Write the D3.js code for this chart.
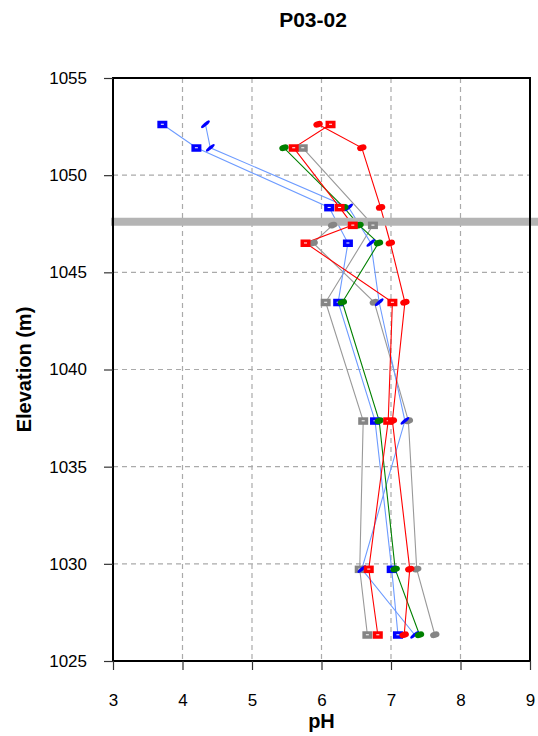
<!DOCTYPE html>
<html><head><meta charset="utf-8">
<script src="https://cdn.jsdelivr.net/npm/d3@7"></script>
<style>
html,body{margin:0;padding:0;background:#fff;}
svg{display:block;font-family:"Liberation Sans",Arial,Helvetica,sans-serif;}
</style></head>
<body><svg id="chart" width="538" height="736"></svg>
<script>
// ---- data ----
const chartTitle = "P03-02";
const xTicks = [3,4,5,6,7,8,9];
const yTicks = [1025,1030,1035,1040,1045,1050,1055];
const bandElevation = 1047.6;

const blueSquareElev = [1052.62,1051.41,1048.34,1046.51,1043.46,1037.36,1029.73,1026.35];
const blueSquarePH   = [3.71,4.20,6.11,6.38,6.24,6.77,7.01,7.10];

const blueSlashElev = [1052.62,1051.41,1048.34,1046.51,1043.46,1037.36,1029.73,1026.35];
const blueSlashPH   = [4.33,4.40,6.39,6.71,6.83,7.20,6.58,7.34];

const redSquareElev = [1052.62,1051.41,1048.34,1047.43,1046.51,1043.46,1037.36,1029.73,1026.35];
const redSquarePH   = [6.13,5.60,6.26,6.45,5.77,7.02,6.96,6.68,6.81];

const redEllipseElev = [1052.62,1051.41,1048.34,1046.51,1043.46,1037.36,1029.73,1026.35];
const redEllipsePH   = [5.95,6.58,6.85,6.99,7.20,7.02,7.27,7.19];

const greenElev = [1051.41,1048.34,1047.43,1046.51,1043.46,1037.36,1029.73,1026.35];
const greenPH   = [5.46,6.32,6.54,6.82,6.30,6.83,7.06,7.41];

const graySquareElev = [1051.41,1047.43,1043.46,1037.36,1029.73,1026.35];
const graySquarePH   = [5.73,6.74,6.06,6.60,6.55,6.66];

const grayEllipseElev = [1047.43,1046.51,1043.46,1037.36,1029.73,1026.35];
const grayEllipsePH   = [6.16,5.88,6.76,7.25,7.37,7.63];

const series = [
  {elev: graySquareElev, ph: graySquarePH, line:"#999999", fill:"#858585", shape:"square"},
  {elev: grayEllipseElev, ph: grayEllipsePH, line:"#999999", fill:"#858585", shape:"ellipse"},
  {elev: blueSquareElev, ph: blueSquarePH, line:"#6d9bff", fill:"#0000ff", shape:"square"},
  {elev: blueSlashElev, ph: blueSlashPH, line:"#6d9bff", fill:"#0000ff", shape:"slash"},
  {elev: greenElev, ph: greenPH, line:"#008000", fill:"#008000", shape:"ellipse"},
  {elev: redSquareElev, ph: redSquarePH, line:"#ff0000", fill:"#ff0000", shape:"square"},
  {elev: redEllipseElev, ph: redEllipsePH, line:"#ff0000", fill:"#ff0000", shape:"ellipse"}
];

// ---- layout ----
const svg = d3.select("#chart");
const L = 113, R = 530, T = 78, B = 661;
const x = d3.scaleLinear().domain([3,9]).range([L,R]);
const y = d3.scaleLinear().domain([1025,1055]).range([B,T]);

// grid
const grid = svg.append("g");
grid.selectAll("line.vx").data(xTicks.slice(1,-1)).join("line")
  .attr("x1",d=>x(d)).attr("x2",d=>x(d)).attr("y1",T).attr("y2",B)
  .attr("stroke","#aaaaaa").attr("stroke-width",1.2).attr("stroke-dasharray","5,4");
grid.selectAll("line.hy").data(yTicks.slice(1,-1)).join("line")
  .attr("x1",L).attr("x2",R).attr("y1",d=>y(d)).attr("y2",d=>y(d))
  .attr("stroke","#aaaaaa").attr("stroke-width",1.2).attr("stroke-dasharray","5,4");

// lines
const lineGen = d3.line().x(d=>x(d[1])).y(d=>y(d[0]));
series.forEach(s=>{
  const pts = s.elev.map((e,i)=>[e,s.ph[i]]);
  svg.append("path").attr("d",lineGen(pts)).attr("fill","none")
    .attr("stroke",s.line).attr("stroke-width",1.1);
});

// band
svg.append("line").attr("x1",L-2).attr("x2",538)
  .attr("y1",y(bandElevation)).attr("y2",y(bandElevation))
  .attr("stroke","#b4b4b4").attr("stroke-width",8);

// markers
series.forEach(s=>{
  const g = svg.append("g");
  s.elev.forEach((e,i)=>{
    const cx = x(s.ph[i]), cy = y(e);
    const m = g.append("g").attr("transform",`translate(${cx},${cy})`);
    if (s.shape==="square") {
      m.append("rect").attr("x",-5).attr("y",-3.5).attr("width",10).attr("height",7.5).attr("fill",s.fill);
      m.append("rect").attr("x",-1.5).attr("y",-0.5).attr("width",3).attr("height",1).attr("fill","#ffffff");
    } else if (s.shape==="ellipse") {
      m.append("ellipse").attr("rx",4.8).attr("ry",3.2).attr("transform","rotate(-15)").attr("fill",s.fill);
    } else {
      m.append("ellipse").attr("rx",5.5).attr("ry",1.7).attr("transform","rotate(-40)").attr("fill",s.fill);
    }
  });
});

// frame
svg.append("rect").attr("x",L).attr("y",T).attr("width",R-L).attr("height",B-T)
  .attr("fill","none").attr("stroke","#000").attr("stroke-width",2);

// axes
const xAxis = svg.append("g").attr("transform",`translate(0,${B})`)
  .call(d3.axisBottom(x).tickValues(xTicks).tickFormat(d3.format("d")).tickSize(9).tickPadding(24));
const yAxis = svg.append("g").attr("transform",`translate(${L},0)`)
  .call(d3.axisLeft(y).tickValues(yTicks).tickFormat(d3.format("d")).tickSize(9).tickPadding(17));
[xAxis,yAxis].forEach(a=>{
  a.select(".domain").remove();
  a.selectAll(".tick line").attr("stroke","#333").attr("stroke-width",1.2);
  a.selectAll(".tick text").attr("fill","#000").style("font-size","17px")
    .style("font-family","'Liberation Sans',Arial,sans-serif");
});

// titles
svg.append("text").attr("x",313).attr("y",27).attr("text-anchor","middle")
  .style("font-size","21px").style("font-weight","bold").text(chartTitle);
svg.append("text").attr("x",x(6)).attr("y",728).attr("text-anchor","middle")
  .style("font-size","20px").style("font-weight","bold").text("pH");
svg.append("text").attr("transform",`translate(31,${(T+B)/2}) rotate(-90)`).attr("text-anchor","middle")
  .style("font-size","20px").style("font-weight","bold").text("Elevation (m)");
</script></body></html>
